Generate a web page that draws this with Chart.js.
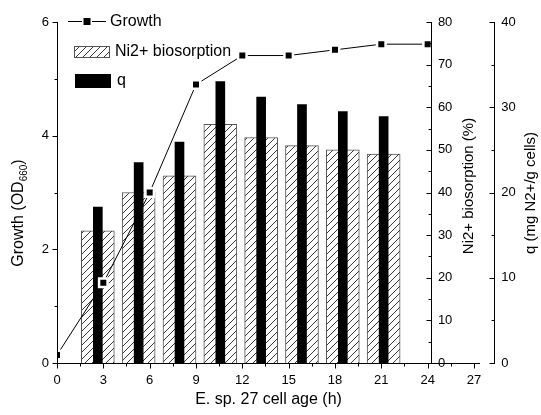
<!DOCTYPE html>
<html>
<head>
<meta charset="utf-8">
<script src="https://cdn.jsdelivr.net/npm/chart.js@4.4.0/dist/chart.umd.min.js"></script>
<style>
  html, body { margin: 0; padding: 0; background: #fff; }
  canvas { display: block; }
</style>
</head>
<body>
<canvas id="chart" width="541" height="415"></canvas>
<script>
const growthHours = [0, 3, 6, 9, 12, 15, 18, 21, 24];
const growthOD = [0.14, 1.41, 3.0, 4.9, 5.41, 5.41, 5.51, 5.61, 5.61];
const barHours = [3, 6, 9, 12, 15, 18, 21, 24];
const niBiosorption = [31.0, 40.0, 43.9, 56.0, 52.9, 51.0, 50.0, 49.0];
const qUptake = [18.3, 23.5, 25.9, 33.0, 31.2, 30.3, 29.5, 28.9];

const hourTicks = [0, 3, 6, 9, 12, 15, 18, 21, 24, 27];
const hourMinorTicks = [1.5, 4.5, 7.5, 10.5, 13.5, 16.5, 19.5, 22.5, 25.5];
const growthTicks = [0, 2, 4, 6];
const growthMinorTicks = [1, 3, 5];
const niTicks = [0, 10, 20, 30, 40, 50, 60, 70, 80];
const niMinorTicks = [5, 15, 25, 35, 45, 55, 65, 75];
const qTicks = [0, 10, 20, 30, 40];
const qMinorTicks = [5, 15, 25, 35];

const FONT = "'Liberation Sans', Arial, sans-serif";
Chart.defaults.font.family = FONT;
Chart.defaults.color = '#000';

const HOUR_MAX = 27.39;     // right end of the bottom axis
const NI_AXIS_AT = 24.21;   // the Ni2+ axis stands just after 24 h
const Q_AXIS_AT = 28.31;    // the q axis sits past the end of the x axis
const BAR_HOUR_MAX = 31.08; // bars use their own hour scale

function setTicks(values) {
  return scale => { scale.ticks = values.map(v => ({ value: v })); };
}

function makeHatch() {
  const c = document.createElement('canvas');
  c.width = 7; c.height = 7;
  const g = c.getContext('2d');
  g.fillStyle = '#fff';
  g.fillRect(0, 0, 7, 7);
  g.strokeStyle = '#222';
  g.lineWidth = 0.9;
  g.beginPath();
  g.moveTo(0, 7); g.lineTo(7, 0);
  g.moveTo(-1, 1); g.lineTo(1, -1);
  g.moveTo(6, 8); g.lineTo(8, 6);
  g.stroke();
  return g.createPattern(c, 'repeat');
}

// axis lines, tick marks and the labels of the two right axes
const axisLines = {
  id: 'axisLines',
  afterDraw(chart) {
    const { ctx, chartArea: area, scales } = chart;
    const snap = v => Math.round(v) + 0.5;
    const xs = scales.x;
    const base = snap(area.bottom);
    ctx.save();
    ctx.strokeStyle = '#000';
    ctx.lineWidth = 1;
    ctx.beginPath();
    ctx.moveTo(area.left, base);
    ctx.lineTo(area.right, base);
    hourTicks.forEach(v => {
      const p = snap(xs.getPixelForValue(v));
      ctx.moveTo(p, base); ctx.lineTo(p, base + 5);
    });
    hourMinorTicks.forEach(v => {
      const p = snap(xs.getPixelForValue(v));
      ctx.moveTo(p, base); ctx.lineTo(p, base + 3);
    });

    const vertical = [
      { scale: scales.y, at: 0, major: growthTicks, minor: growthMinorTicks, labels: false },
      { scale: scales.yNi, at: NI_AXIS_AT, major: niTicks, minor: niMinorTicks, labels: true },
      { scale: scales.yQ, at: Q_AXIS_AT, major: qTicks, minor: qMinorTicks, labels: true },
    ];
    vertical.forEach(ax => {
      const px = snap(xs.getPixelForValue(ax.at));
      ctx.moveTo(px, ax.scale.getPixelForValue(ax.scale.max));
      ctx.lineTo(px, base + 0.5);
      ax.major.forEach(v => {
        const p = snap(ax.scale.getPixelForValue(v));
        ctx.moveTo(px, p); ctx.lineTo(px - 5, p);
      });
      ax.minor.forEach(v => {
        const p = snap(ax.scale.getPixelForValue(v));
        ctx.moveTo(px, p); ctx.lineTo(px - 3, p);
      });
    });
    ctx.stroke();

    ctx.fillStyle = '#000';
    ctx.font = '13px ' + FONT;
    ctx.textAlign = 'left';
    ctx.textBaseline = 'middle';
    vertical.filter(ax => ax.labels).forEach(ax => {
      const px = xs.getPixelForValue(ax.at);
      ax.major.forEach(v => ctx.fillText(String(v), px + 7, ax.scale.getPixelForValue(v)));
    });
    ctx.restore();
  }
};

function drawUp(ctx, text, x, y, size) {
  ctx.save();
  ctx.font = size + 'px ' + FONT;
  ctx.textAlign = 'center';
  ctx.textBaseline = 'middle';
  ctx.translate(x, y);
  ctx.rotate(-Math.PI / 2);
  ctx.fillText(text, 0, 0);
  ctx.restore();
}

// rotated axis titles (read bottom to top on every side)
const axisTitles = {
  id: 'axisTitles',
  afterDraw(chart) {
    const ctx = chart.ctx;
    ctx.save();
    ctx.fillStyle = '#000';
    ctx.textBaseline = 'middle';
    ctx.translate(19, 213);
    ctx.rotate(-Math.PI / 2);
    ctx.font = '16px ' + FONT;
    const w1 = ctx.measureText('Growth (OD').width;
    const w3 = ctx.measureText(')').width;
    ctx.font = '10px ' + FONT;
    const w2 = ctx.measureText('660').width;
    const x = -(w1 + w2 + w3) / 2;
    ctx.font = '16px ' + FONT;
    ctx.fillText('Growth (OD', x, 0);
    ctx.font = '10px ' + FONT;
    ctx.fillText('660', x + w1, 5);
    ctx.font = '16px ' + FONT;
    ctx.fillText(')', x + w1 + w2, 0);
    ctx.restore();
    drawUp(ctx, 'Ni2+ biosorption (%)', 469, 186, 15);
    drawUp(ctx, 'q (mg N2+/g cells)', 531, 193, 15);
  }
};

const legendBox = {
  id: 'legendBox',
  afterDraw(chart) {
    const ctx = chart.ctx;
    const [growth, ni, q] = chart.data.datasets;
    ctx.save();
    ctx.font = '16px ' + FONT;
    ctx.textBaseline = 'middle';
    ctx.strokeStyle = growth.borderColor;
    ctx.lineWidth = 1;
    ctx.beginPath();
    ctx.moveTo(68, 21.5); ctx.lineTo(82, 21.5);
    ctx.moveTo(92, 21.5); ctx.lineTo(106, 21.5);
    ctx.stroke();
    ctx.fillStyle = growth.pointBackgroundColor;
    ctx.fillRect(83.5, 18, 7, 7);
    ctx.fillStyle = '#000';
    ctx.fillText(growth.label, 110, 21.5);

    ctx.fillStyle = ni.backgroundColor;
    ctx.fillRect(74, 46, 35, 11);
    ctx.strokeStyle = ni.borderColor;
    ctx.strokeRect(74.5, 46.5, 35, 11);
    ctx.fillStyle = '#000';
    ctx.fillText(ni.label, 115, 52);

    ctx.fillStyle = q.backgroundColor;
    ctx.fillRect(75, 74, 36, 14);
    ctx.fillStyle = '#000';
    ctx.fillText(q.label, 117, 81);
    ctx.restore();
  }
};

const hatch = makeHatch();
const noGrid = { display: false, drawTicks: false, drawOnChartArea: false };
const noBorder = { display: false };

new Chart(document.getElementById('chart'), {
  type: 'line',
  data: {
    datasets: [
      {
        type: 'line',
        label: 'Growth',
        data: growthHours.map((h, i) => ({ x: h, y: growthOD[i] })),
        xAxisID: 'x',
        yAxisID: 'y',
        borderColor: '#000',
        borderWidth: 1,
        tension: 0,
        pointStyle: 'rect',
        pointRadius: 6,
        pointBackgroundColor: '#000',
        pointBorderColor: '#fff',
        pointBorderWidth: 2.5,
        clip: 0,
        order: 0,
      },
      {
        type: 'bar',
        label: 'Ni2+ biosorption',
        data: barHours.map((h, i) => ({ x: h, y: niBiosorption[i] })),
        xAxisID: 'xb',
        yAxisID: 'yNi',
        backgroundColor: hatch,
        borderColor: '#555',
        borderWidth: 1,
        barThickness: 33,
        grouped: false,
        order: 2,
      },
      {
        type: 'bar',
        label: 'q',
        data: barHours.map((h, i) => ({ x: h, y: qUptake[i] })),
        xAxisID: 'xb',
        yAxisID: 'yQ',
        backgroundColor: '#000',
        barThickness: 9,
        grouped: false,
        order: 1,
      },
    ],
  },
  options: {
    responsive: false,
    animation: false,
    layout: { padding: { left: 42, right: 61, top: 22, bottom: 6 } },
    plugins: {
      legend: { display: false },
      tooltip: { enabled: false },
    },
    scales: {
      x: {
        type: 'linear',
        position: 'bottom',
        min: 0,
        max: HOUR_MAX,
        offset: false,
        afterBuildTicks: setTicks(hourTicks),
        afterFit: s => { s.height = 46; },
        ticks: { font: { size: 13 }, padding: 10 },
        grid: noGrid,
        border: noBorder,
        title: {
          display: true,
          text: 'E. sp. 27 cell age (h)',
          font: { size: 16 },
          padding: { top: 1, bottom: 0 },
        },
      },
      xb: { type: 'linear', display: false, offset: false, min: 0, max: BAR_HOUR_MAX },
      y: {
        type: 'linear',
        position: 'left',
        min: 0,
        max: 6,
        afterBuildTicks: setTicks(growthTicks),
        afterFit: s => { s.width = 15; },
        ticks: { font: { size: 13 }, padding: 8 },
        grid: noGrid,
        border: noBorder,
      },
      yNi: { type: 'linear', position: 'right', display: false, min: 0, max: 80 },
      yQ: { type: 'linear', position: 'right', display: false, min: 0, max: 40 },
    },
  },
  plugins: [axisLines, axisTitles, legendBox],
});
</script>
</body>
</html>
